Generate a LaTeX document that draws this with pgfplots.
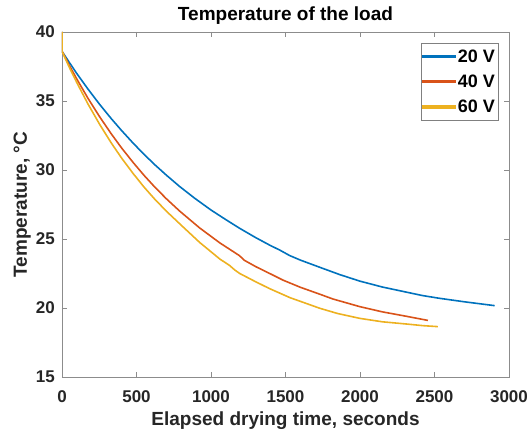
\documentclass[border=0pt]{standalone}
\usepackage{pgfplots}
\pgfplotsset{compat=1.18}
\usepackage{fontspec}
\setmainfont{Liberation Sans}
\definecolor{c1}{rgb}{0,0.447,0.741}
\definecolor{c2}{rgb}{0.850,0.325,0.098}
\definecolor{c3}{rgb}{0.929,0.694,0.125}
\newcommand{\tf}{\fontsize{17}{19}\selectfont\bfseries}
\newcommand{\lf}{\fontsize{19}{21}\selectfont\bfseries}
\begin{document}
\begin{tikzpicture}
\useasboundingbox (-62pt,-56pt) rectangle (468pt,377pt);
\begin{axis}[
  at={(0,0)}, anchor=south west,
  scale only axis, width=447pt, height=345pt,
  xmin=0, xmax=3000, ymin=15, ymax=40,
  xtick={0,500,1000,1500,2000,2500,3000},
  ytick={15,20,25,30,35,40},
  tick align=inside, major tick length=5pt,
  axis line style={black!45, line width=0.6pt},
  tick style={black!45, line width=0.6pt},
  /pgf/number format/assume math mode=true,
  /pgf/number format/set thousands separator={},
  ticklabel style={font=\tf, text=black!85},
  xticklabel style={anchor=base, yshift=-26pt},
  yticklabel style={anchor=east, inner xsep=0pt, xshift=-7pt},
  title={Temperature of the load},
  title style={font=\lf, text=black, at={(axis description cs:0.5,1)}, anchor=base, yshift=5pt},
  xlabel={Elapsed drying time, seconds},
  ylabel={Temperature, °C},
  xlabel style={font=\lf, text=black!85, at={(axis description cs:0.5,0)}, anchor=base, yshift=-49pt},
  ylabel style={font=\lf, text=black!85, at={([xshift=-35pt]axis description cs:0,0.5)}, anchor=base},
  legend style={at={(0.9754,0.968)}, anchor=north east, font=\fontsize{18}{20}\selectfont\bfseries,
    draw=black!50, inner xsep=1pt, inner ysep=5.5pt, row sep=9pt,
    nodes={inner xsep=2pt, inner ysep=1pt}},
  legend cell align=left,
  legend image code/.code={\fill[#1] (0pt,-0.85pt) rectangle (32pt,0.85pt);},
  every axis plot/.append style={line width=1.6pt},
]
\addplot[c1] coordinates {
(0,40) (0,38.6) (50,37.78) (100,36.98) (174,35.87) (253,34.75) (330,33.73) (399,32.87)
(477,31.95) (550,31.14) (622,30.39) (700,29.63) (790,28.8) (891,27.95) (1000,27.1)
(1100,26.4) (1193,25.77) (1300,25.1) (1400,24.52) (1461,24.2) (1528,23.8) (1600,23.47)
(1730,22.95) (1864,22.42) (1998,21.95) (2150,21.52) (2311,21.15) (2420,20.9) (2535,20.7)
(2700,20.45) (2904,20.17)
};
\addlegendentry{20 V}
\addplot[c2] coordinates {
(0,40) (0,38.6) (50,37.56) (100,36.58) (174,35.2) (253,33.85) (330,32.63) (399,31.61)
(477,30.55) (550,29.62) (622,28.77) (700,27.92) (790,27.02) (924,25.8) (1059,24.72)
(1190,23.8) (1225,23.45) (1300,23.0) (1394,22.5) (1483,22.02) (1600,21.5) (1730,21.0)
(1819,20.65) (1998,20.1) (2150,19.72) (2311,19.4) (2456,19.1)
};
\addlegendentry{40 V}
\addplot[c3] coordinates {
(0,40) (0,38.6) (50,37.42) (100,36.32) (174,34.79) (253,33.3) (330,31.97) (399,30.88)
(477,29.75) (550,28.77) (617,27.95) (700,27.02) (800,26.0) (924,24.75) (1059,23.55)
(1125,23.08) (1160,22.75) (1193,22.5) (1300,21.9) (1394,21.4) (1530,20.75) (1730,19.98)
(1850,19.6) (1998,19.25) (2150,19.0) (2311,18.84) (2423,18.72) (2523,18.65)
};
\addlegendentry{60 V}
\end{axis}
\end{tikzpicture}
\end{document}
